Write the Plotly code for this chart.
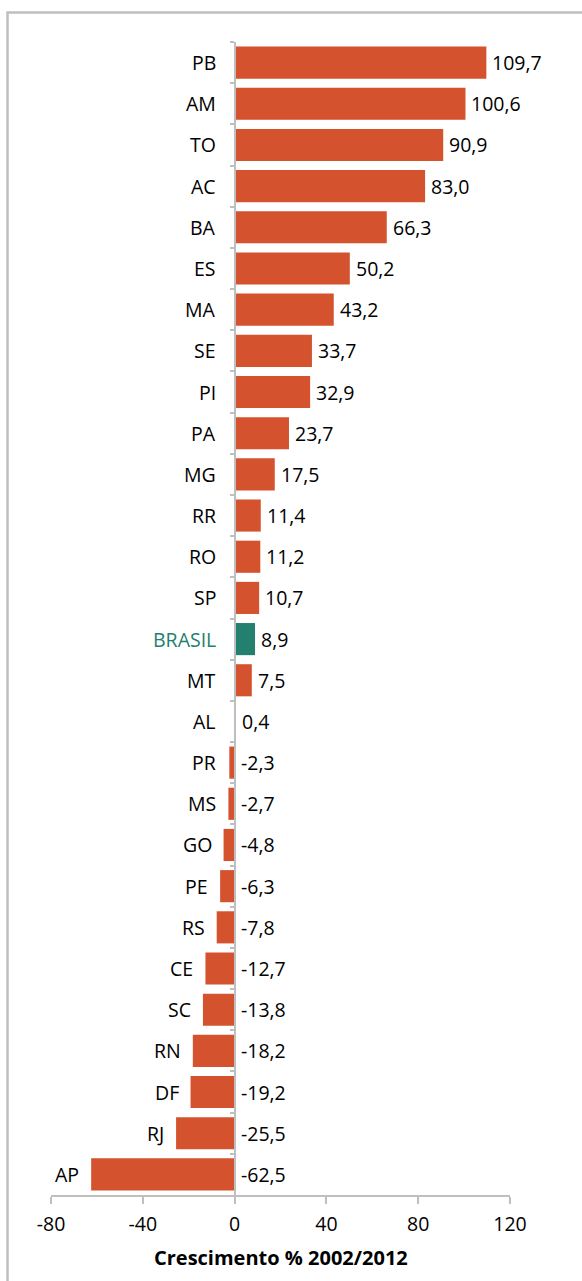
import plotly.graph_objects as go

categories = ["PB", "AM", "TO", "AC", "BA", "ES", "MA", "SE", "PI", "PA", "MG", "RR", "RO", "SP",
              "BRASIL", "MT", "AL", "PR", "MS", "GO", "PE", "RS", "CE", "SC", "RN", "DF", "RJ", "AP"]
values = [109.7, 100.6, 90.9, 83.0, 66.3, 50.2, 43.2, 33.7, 32.9, 23.7, 17.5, 11.4, 11.2, 10.7,
          8.9, 7.5, 0.4, -2.3, -2.7, -4.8, -6.3, -7.8, -12.7, -13.8, -18.2, -19.2, -25.5, -62.5]
x_ticks = [-80, -40, 0, 40, 80, 120]

ORANGE = "#D4522E"
TEAL = "#23806F"
GRAY = "#BFBFBF"
FONT = "Open Sans"
FS = 19.5

colors = [TEAL if c == "BRASIL" else ORANGE for c in categories]

fig = go.Figure()
fig.add_trace(go.Bar(
    x=values, y=categories, orientation="h",
    marker=dict(color=colors, line=dict(width=0)),
    hoverinfo="skip",
))

annotations = []
for c, v in zip(categories, values):
    # value label
    annotations.append(dict(
        x=max(v, 0), y=c, xref="x", yref="y", text=f"{v:.1f}".replace(".", ","),
        showarrow=False, xanchor="left", yanchor="middle", xshift=4,
        font=dict(family=FONT, size=FS, color="black"),
    ))
    # category label
    annotations.append(dict(
        x=min(v, -3.0), y=c, xref="x", yref="y", text=c,
        showarrow=False, xanchor="right", yanchor="middle", xshift=-10,
        font=dict(family=FONT, size=FS, color=TEAL if c == "BRASIL" else "black"),
    ))

annotations.append(dict(
    x=0.5, y=-0.0538, xref="paper", yref="paper", text="<b>Crescimento % 2002/2012</b>",
    showarrow=False, xanchor="center", yanchor="middle",
    font=dict(family=FONT, size=20, color="black"),
))

fig.update_layout(
    width=582, height=1281,
    margin=dict(l=51, r=72, t=42, b=86),
    paper_bgcolor="white", plot_bgcolor="white",
    bargap=0.22,
    showlegend=False,
    annotations=annotations,
    font=dict(family=FONT, size=FS, color="black"),
    xaxis=dict(
        range=[-80, 120], tickvals=x_ticks, ticktext=[str(t) for t in x_ticks],
        showgrid=False, zeroline=False,
        showline=True, linecolor=GRAY, linewidth=2,
        ticks="outside", ticklen=7, tickwidth=2, tickcolor=GRAY,
        tickfont=dict(family=FONT, size=FS, color="black"),
        ticklabelstandoff=4,
        fixedrange=True,
    ),
    yaxis=dict(
        type="category", autorange="reversed",
        anchor="free", position=0.4,
        showgrid=False, zeroline=False,
        showline=True, linecolor=GRAY, linewidth=2,
        ticks="outside", tickson="boundaries", ticklen=4, tickwidth=2, tickcolor=GRAY,
        showticklabels=False,
        fixedrange=True,
    ),
    shapes=[dict(
        type="rect", xref="paper", yref="paper",
        x0=(7.5 - 51) / 459, x1=1.2, y0=-0.1, y1=(1195 - 12.5) / 1153,
        line=dict(color=GRAY, width=2.5), fillcolor="rgba(0,0,0,0)", layer="below",
    )],
)

fig.write_html("out.html", config={"displayModeBar": False},
               post_script="document.body.style.margin='0';")
